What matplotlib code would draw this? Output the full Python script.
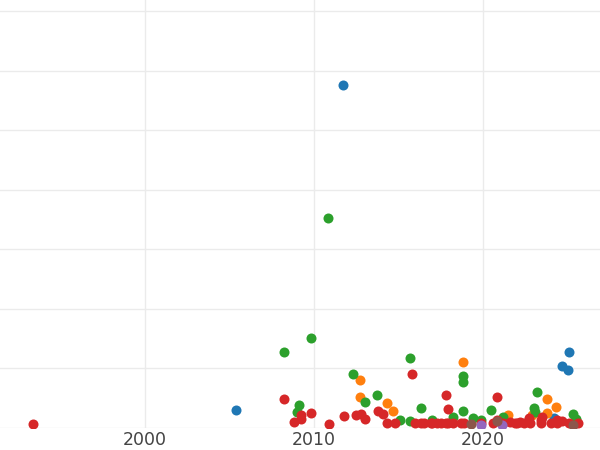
import matplotlib
matplotlib.use("Agg")
import matplotlib.pyplot as plt

# series (year, value); y units are arbitrary, grid every 100
blue_years = [2011.7, 2005.4, 2025.1, 2024.7, 2025.0, 2024.2]
blue_vals = [576, 29, 127, 103, 97, 16]

orange_years = [2018.8, 2012.7, 2012.7, 2014.3, 2014.7, 2021.5, 2021.4, 2023.8, 2024.3, 2023.8, 2022.9]
orange_vals = [110, 80, 51, 41, 28, 21, 18, 48, 34, 24, 21]

green_years = [2010.8, 2008.2, 2009.8, 2015.7, 2012.3, 2018.8, 2018.8, 2013.7, 2009.1, 2009.0,
               2013.0, 2016.3, 2018.8, 2018.2, 2015.1, 2015.7, 2017.0, 2019.4, 2019.9, 2020.5,
               2023.2, 2023.0, 2023.1, 2021.2, 2025.3, 2025.5]
green_vals = [352, 127, 150, 117, 90, 87, 76, 55, 38, 26,
              43, 33, 28, 18, 13, 11, 13, 16, 13, 29,
              60, 33, 26, 18, 23, 14]

red_years = [1993.4, 2008.2, 2015.8, 2017.8, 2017.9, 2020.8, 2009.8, 2009.2, 2009.2, 2008.8,
             2010.9, 2011.8, 2012.5, 2012.8, 2013.0, 2013.8, 2014.1,
             2014.3, 2014.8, 2016.0, 2016.3, 2016.5, 2016.9, 2017.0, 2017.3, 2017.5, 2017.8,
             2017.9, 2018.2, 2018.7, 2018.9,
             2019.9, 2020.8, 2020.6, 2021.2, 2021.6, 2021.9, 2022.0, 2022.2, 2022.4, 2022.7,
             2022.8, 2023.4, 2023.5, 2023.4, 2024.0, 2024.4, 2024.4, 2024.7, 2025.1, 2025.6]
red_vals = [6, 48, 90, 55, 31, 51, 24, 21, 14, 9,
            6, 19, 21, 23, 14, 28, 23,
            7, 7, 8, 7, 7, 8, 7, 7, 8, 7,
            8, 7, 8, 7,
            7, 13, 8, 8, 9, 7, 8, 9, 7, 16,
            8, 8, 18, 13, 8, 7, 13, 11, 8, 8]

purple_years = [2019.9, 2021.1]
purple_vals = [4, 4]

brown_years = [2019.3, 2020.8, 2025.3]
brown_vals = [6, 11, 4]

series = [
    (blue_years, blue_vals, "#1f77b4"),
    (orange_years, orange_vals, "#ff7f0e"),
    (green_years, green_vals, "#2ca02c"),
    (red_years, red_vals, "#d62728"),
    (purple_years, purple_vals, "#9467bd"),
    (brown_years, brown_vals, "#8c564b"),
]

fig = plt.figure(figsize=(6, 4.5), dpi=100)
ax = fig.add_axes([0, 0.05, 1, 0.95])

for xs, ys, col in series:
    ax.scatter(xs, ys, s=52, color=col, linewidths=0, zorder=3)

ax.set_xlim(1991.42, 2026.92)
ax.set_ylim(0, 718.5)
ax.set_xticks([2000, 2010, 2020])
ax.set_yticks(range(0, 800, 100))
ax.set_yticklabels([])
ax.grid(True, color="#ebebeb", linewidth=1.0, zorder=0)
ax.set_axisbelow(True)
ax.tick_params(length=0, labelsize=12.5, labelcolor="#444444", pad=2.5)
for sp in ax.spines.values():
    sp.set_visible(False)

fig.savefig("out.png", dpi=100, facecolor="white")
